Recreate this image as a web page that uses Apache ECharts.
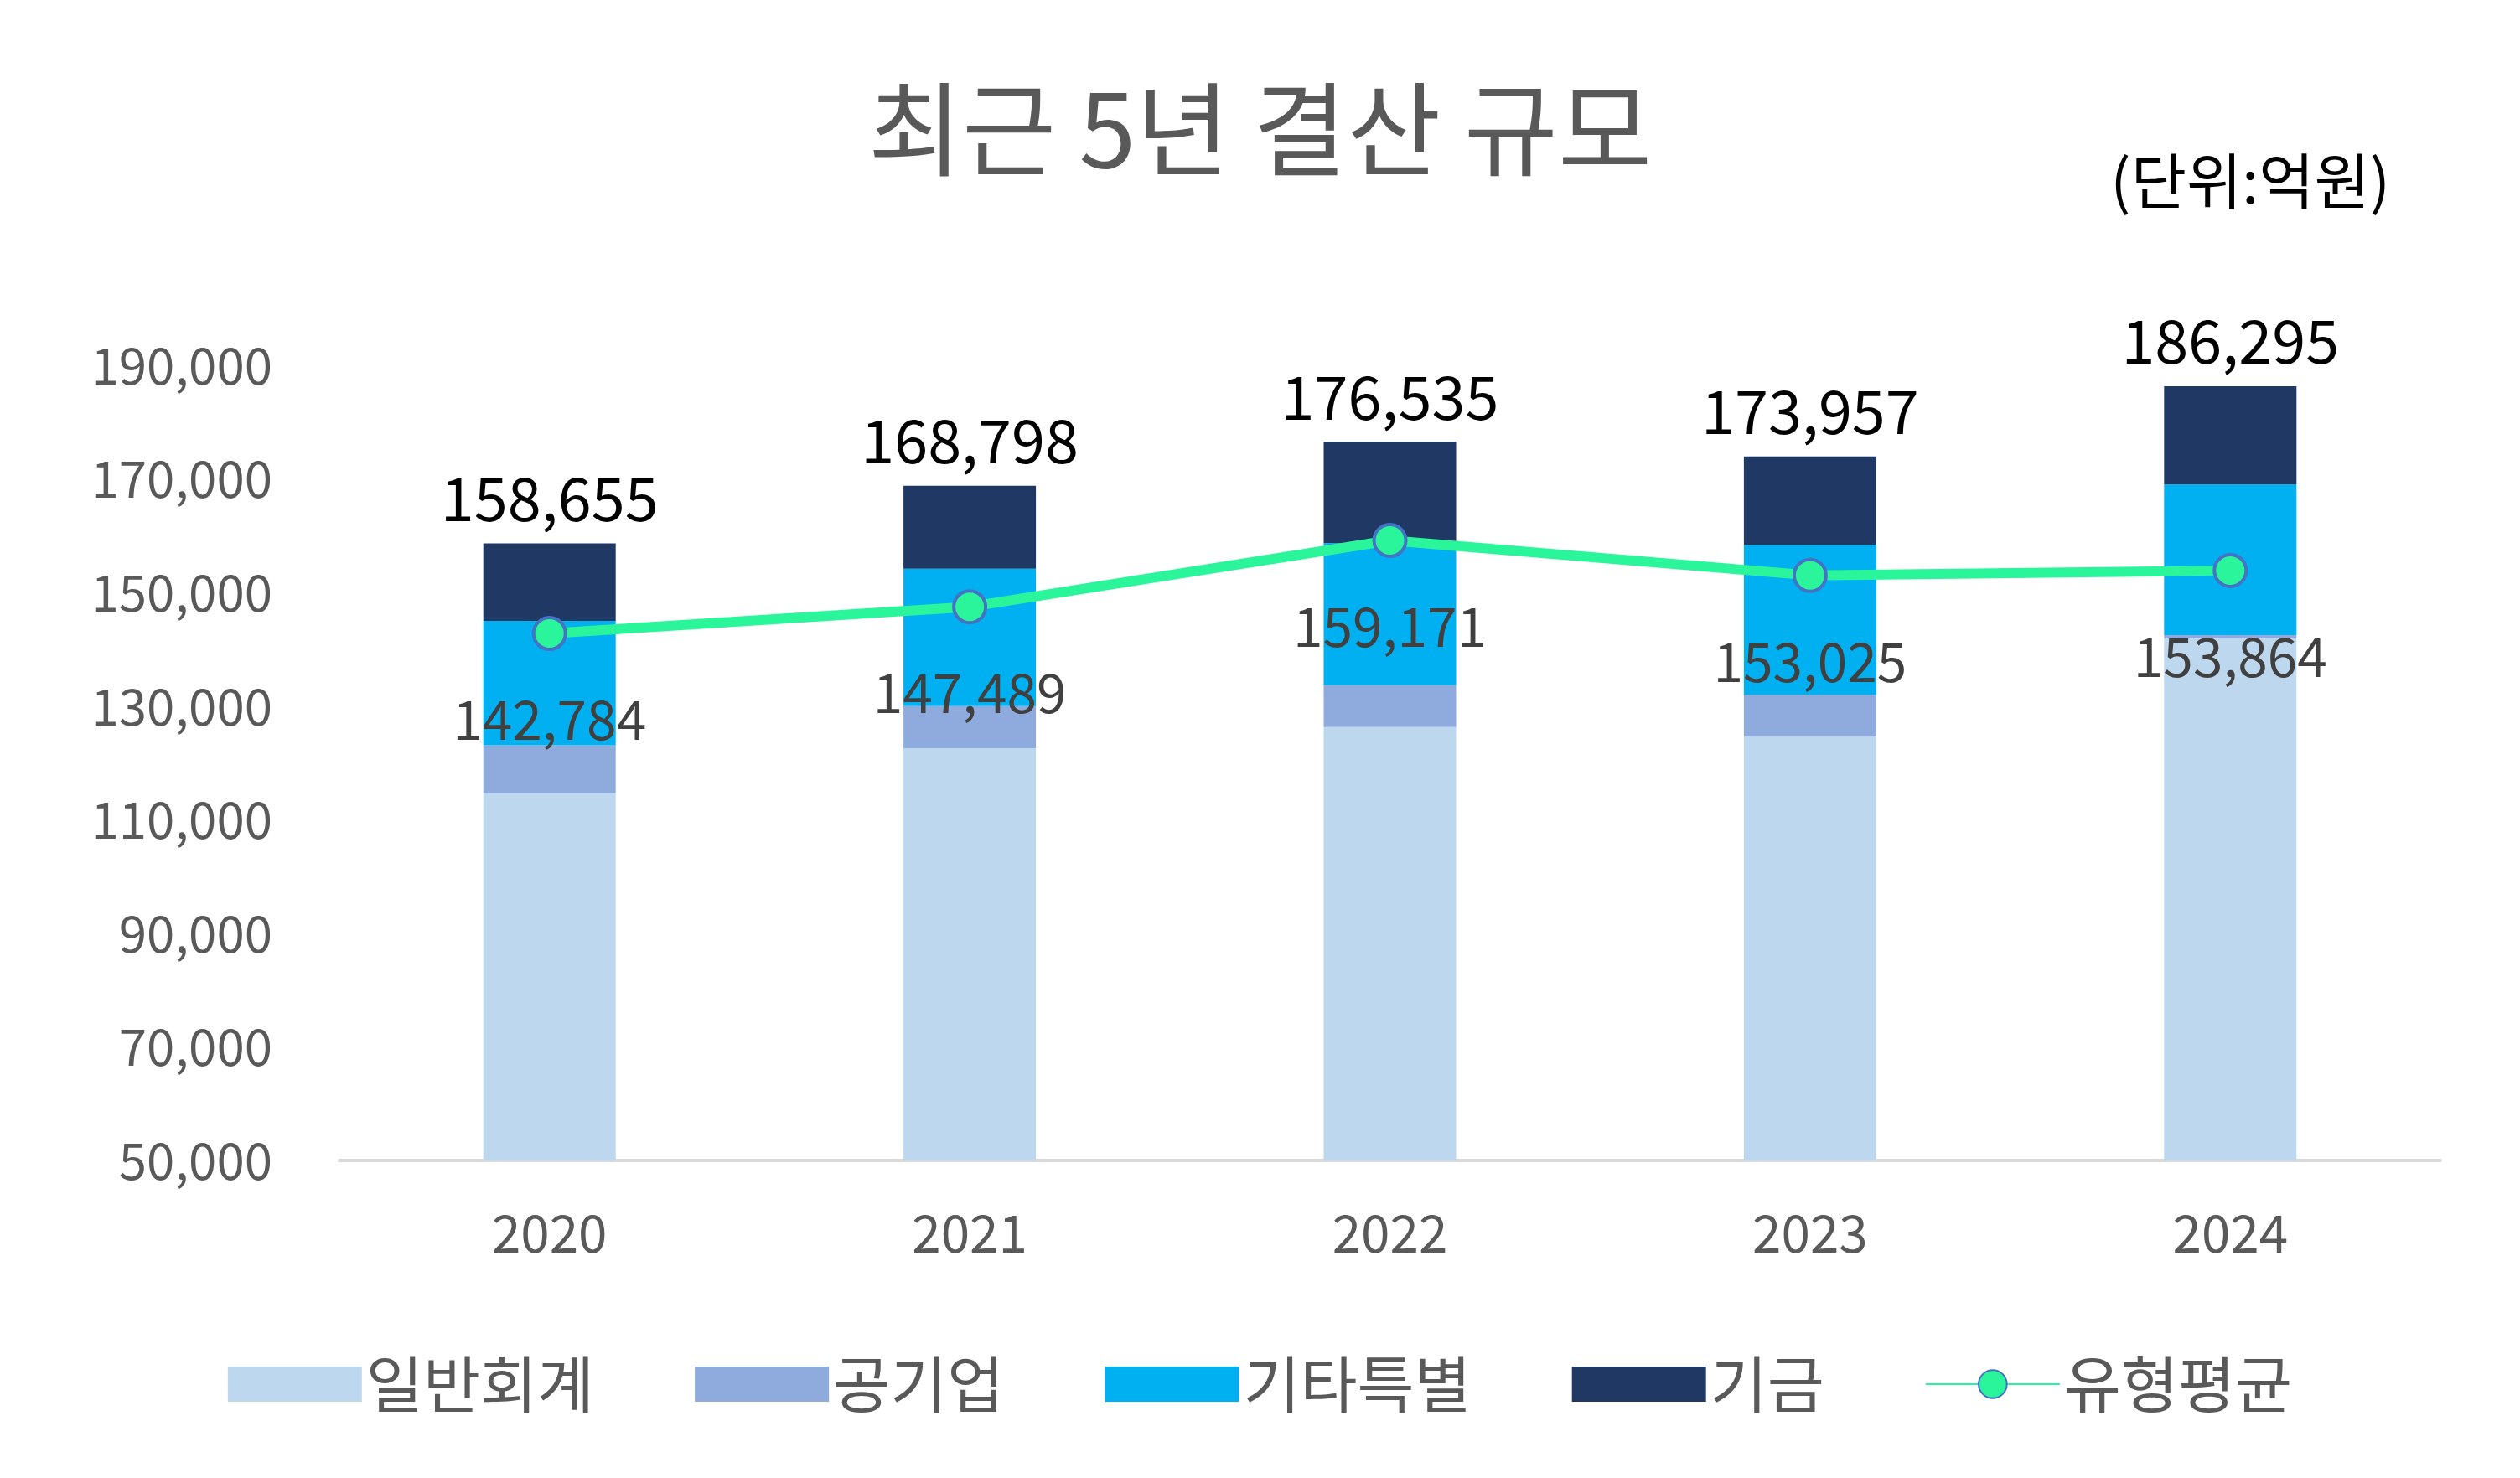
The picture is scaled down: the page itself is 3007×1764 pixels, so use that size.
<!DOCTYPE html>
<html><head><meta charset="utf-8">
<script src="https://cdn.jsdelivr.net/npm/echarts@6/dist/echarts.min.js"></script>
<style>html,body{margin:0;background:#fff}#c{width:3007px;height:1764px}</style>
</head><body><div id="c"></div>
<script>
const years = ['2020', '2021', '2022', '2023', '2024'];
const general = [114600, 122600, 126300, 124600, 141900];
const publicCorp = [8500, 7400, 7400, 7400, 600];
const otherSpecial = [21900, 24200, 25000, 26400, 26500];
const totals = [158655, 168798, 176535, 173957, 186295];
const fund = totals.map((t, i) => t - general[i] - publicCorp[i] - otherSpecial[i]);
const average = [142784, 147489, 159171, 153025, 153864];

const font = 'Noto Sans CJK KR';
const chart = echarts.init(document.getElementById('c'));
const bar = (name, data, color) => ({
  name, type: 'bar', stack: 'a', data, barWidth: 158,
  itemStyle: { color }
});
chart.setOption({
  textStyle: { fontFamily: font },
  title: [
    { text: '최근 5년 결산 규모', left: 'center', top: 88,
      textStyle: { fontSize: 122, fontWeight: 'normal', color: '#595959', fontFamily: font } },
    { text: '(단위:억원)', right: 150, top: 175,
      textStyle: { fontSize: 72, fontWeight: 'normal', color: '#000', fontFamily: font } }
  ],
  grid: { left: 405, right: 95, top: 436, bottom: 379 },
  legend: {
    bottom: 70, left: 'center', itemWidth: 160, itemHeight: 42, itemGap: 120,
    textStyle: { fontSize: 74, color: '#595959', fontFamily: font },
    data: [
      { name: '일반회계', icon: 'rect' }, { name: '공기업', icon: 'rect' },
      { name: '기타특별', icon: 'rect' }, { name: '기금', icon: 'rect' },
      { name: '유형평균' }
    ]
  },
  xAxis: {
    type: 'category', data: years,
    axisLine: { lineStyle: { color: '#d9d9d9', width: 4 } },
    axisTick: { show: false },
    axisLabel: { fontSize: 62, color: '#595959', margin: 55 }
  },
  yAxis: {
    type: 'value', min: 50000, max: 190000, interval: 20000,
    splitLine: { show: false },
    axisLabel: { fontSize: 60, color: '#595959', margin: 80,
      formatter: v => v.toLocaleString('en-US') }
  },
  series: [
    bar('일반회계', general, '#BDD7EE'),
    bar('공기업', publicCorp, '#8FAADC'),
    bar('기타특별', otherSpecial, '#00B0F0'),
    Object.assign(bar('기금', fund, '#203864'), {
      label: { show: true, position: 'top', distance: 18, fontSize: 72, color: '#000',
        formatter: p => totals[p.dataIndex].toLocaleString('en-US') }
    }),
    {
      name: '유형평균', type: 'line', data: average,
      lineStyle: { color: '#2BF59B', width: 12 },
      itemStyle: { color: '#2BF59B', borderColor: '#4472C4', borderWidth: 4 },
      symbol: 'circle', symbolSize: 38,
      label: { show: true, position: 'bottom', distance: 50, fontSize: 64, color: '#404040',
        formatter: p => p.value.toLocaleString('en-US') },
      z: 5
    }
  ]
});
</script></body></html>
